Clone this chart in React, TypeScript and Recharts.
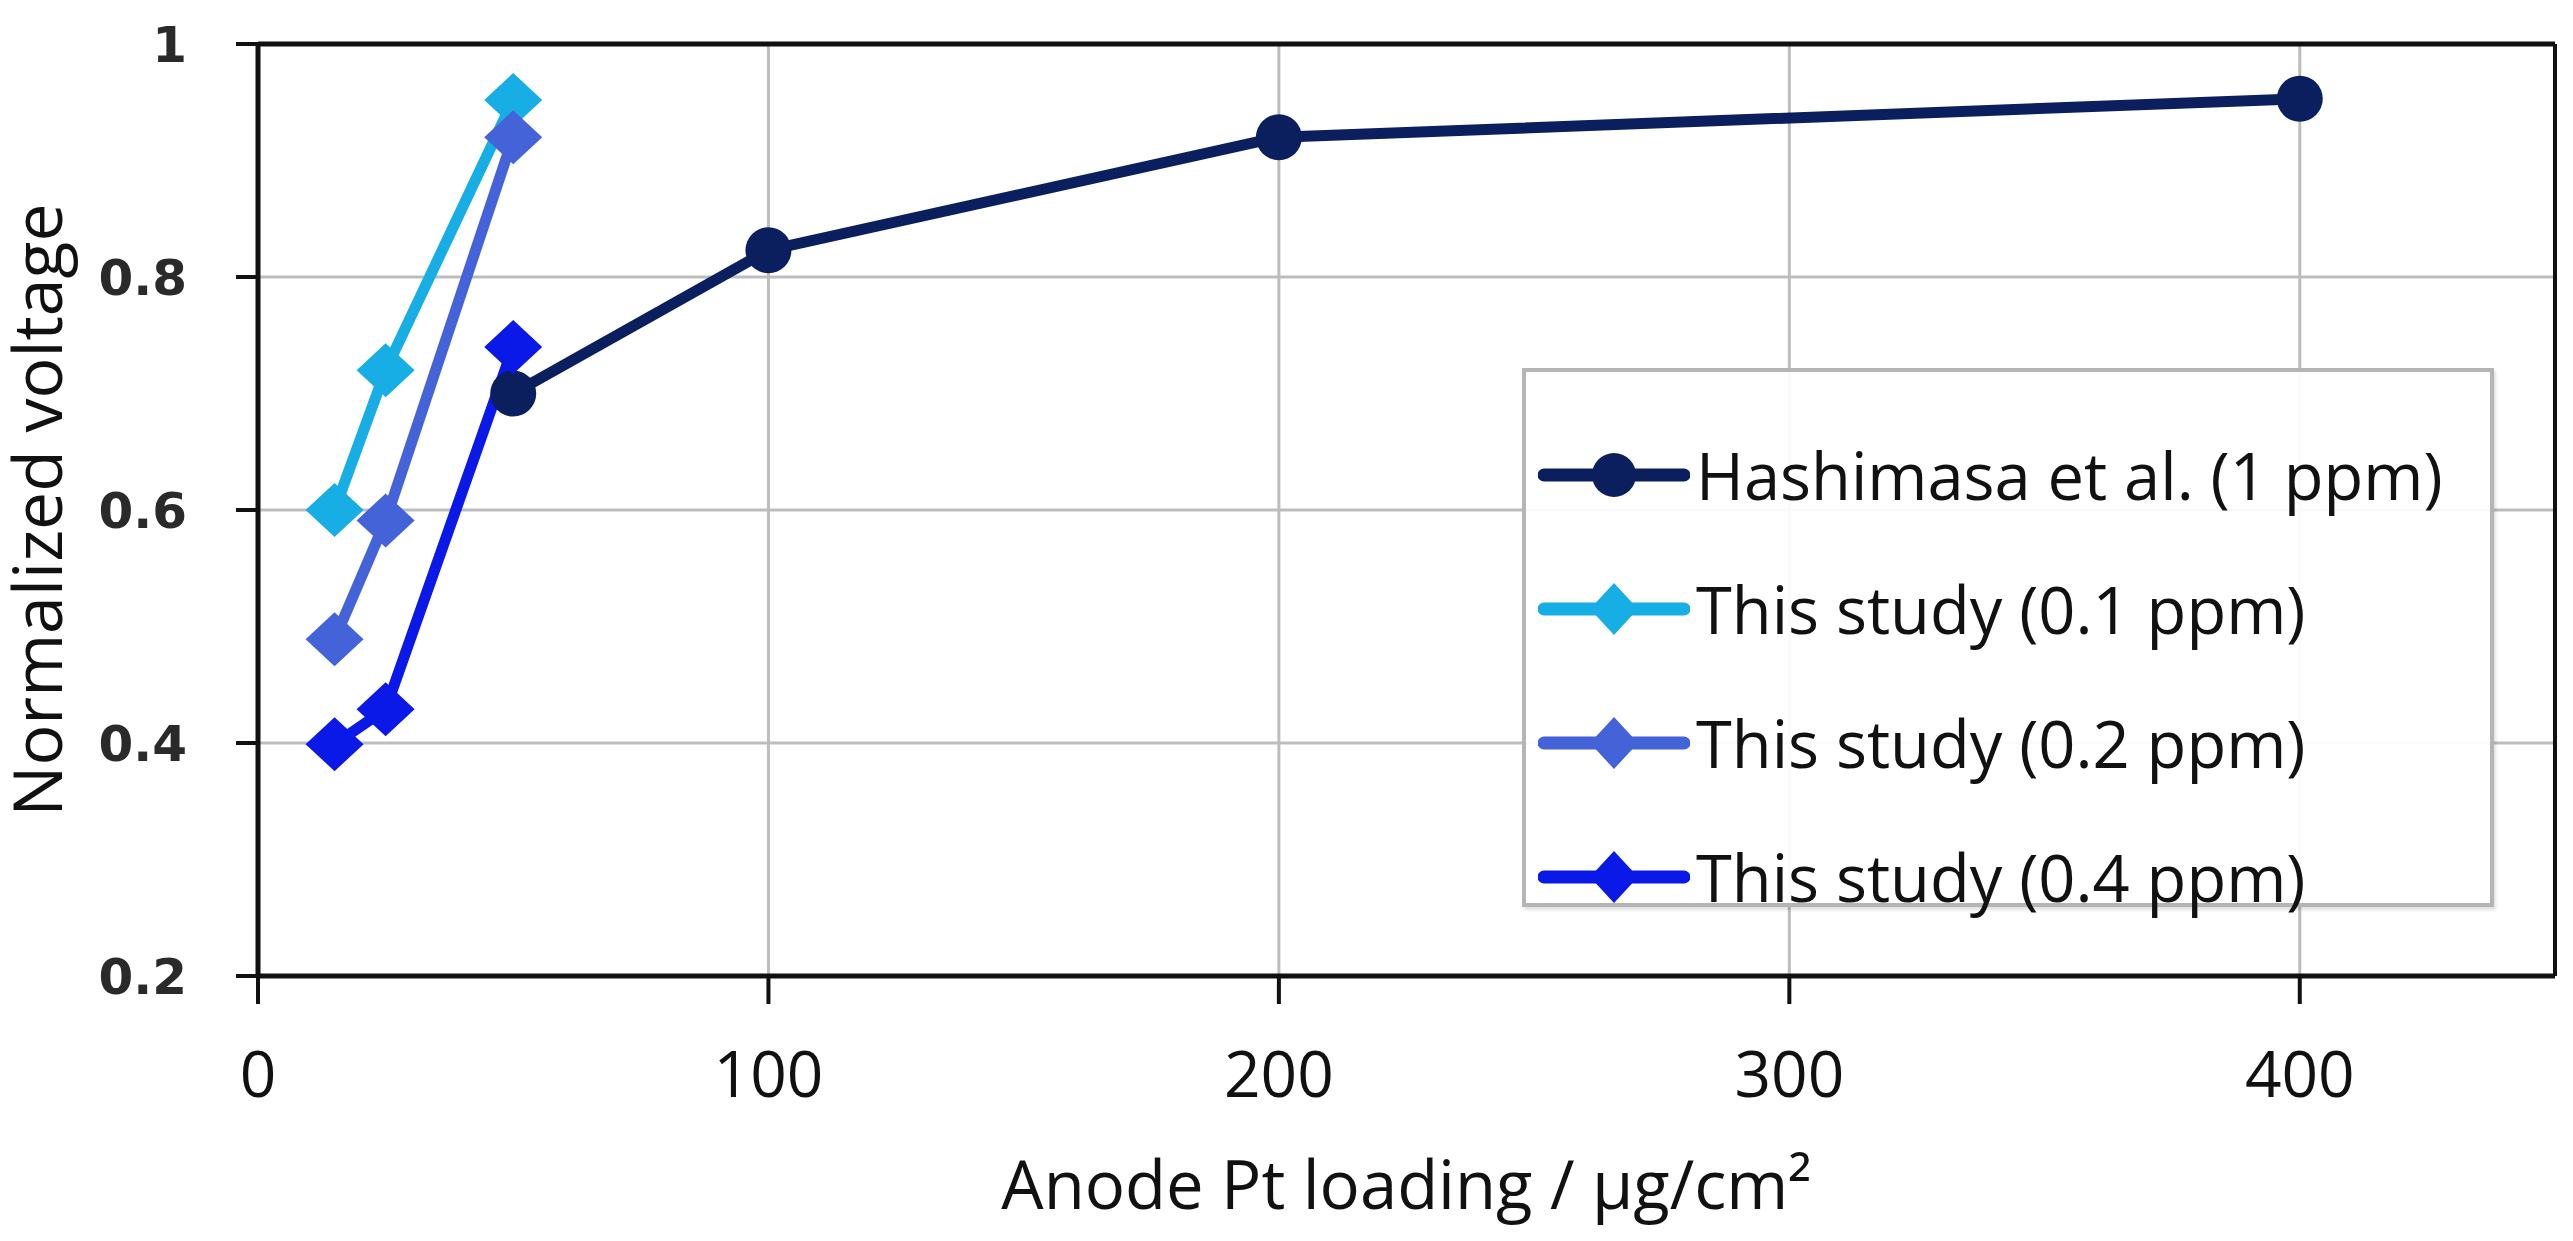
import React from "react";
import {
  LineChart,
  Line,
  XAxis,
  YAxis,
  CartesianGrid,
  Legend,
  Label,
  ReferenceLine,
} from "recharts";

// anode Pt loading (µg/cm²) and normalized voltage
const hashimasaLoading = [50, 100, 200, 400];
const hashimasaVoltage = [0.7, 0.823, 0.92, 0.953];
const studyLoading = [15, 25, 50];
const study01Voltage = [0.6, 0.72, 0.952];
const study02Voltage = [0.489, 0.591, 0.92];
const study04Voltage = [0.399, 0.429, 0.74];

const xTicks = [0, 100, 200, 300, 400];
const yTicks = [0.2, 0.4, 0.6, 0.8, 1];

const seriesNames = [
  "Hashimasa et al. (1 ppm)",
  "This study (0.1 ppm)",
  "This study (0.2 ppm)",
  "This study (0.4 ppm)",
];

const NAVY = "#0b1f5e";
const CYAN = "#17aee6";
const MID = "#4563d9";
const BLUE = "#0a18e8";

const toPoints = (xs: number[], ys: number[]) =>
  xs.map((x, i) => ({ x, y: ys[i] }));

const hashimasa = toPoints(hashimasaLoading, hashimasaVoltage);
const study01 = toPoints(studyLoading, study01Voltage);
const study02 = toPoints(studyLoading, study02Voltage);
const study04 = toPoints(studyLoading, study04Voltage);

const SANS = "'Open Sans', sans-serif";

function diamondDot(color: string) {
  return (props: any) => {
    const { cx, cy, index } = props;
    if (cx == null || cy == null) return <g key={index} />;
    return (
      <polygon
        key={index}
        points={`${cx},${cy - 27} ${cx + 29},${cy} ${cx},${cy + 27} ${cx - 29},${cy}`}
        fill={color}
      />
    );
  };
}

function circleDot(color: string) {
  return (props: any) => {
    const { cx, cy, index } = props;
    if (cx == null || cy == null) return <g key={index} />;
    return <circle key={index} cx={cx} cy={cy} r={23} fill={color} />;
  };
}

function LegendIcon({ color, circle }: { color: string; circle: boolean }) {
  return (
    <svg width={152} height={60} style={{ display: "block" }}>
      <line x1={6} y1={30} x2={146} y2={30} stroke={color} strokeWidth={13} strokeLinecap="round" />
      {circle ? (
        <circle cx={76} cy={30} r={22} fill={color} />
      ) : (
        <polygon points="76,4 100,30 76,56 52,30" fill={color} />
      )}
    </svg>
  );
}

function LegendBox({ payload }: { payload?: Array<{ value: string; color: string; dataKey?: any }> }) {
  if (!payload?.length) return null;
  return (
    <div
      style={{
        boxSizing: "border-box",
        width: 972,
        height: 539,
        border: "4px solid #b5b5b5",
        boxShadow: "2px 3px 3px rgba(0,0,0,0.12)",
        background: "rgba(255,255,255,0.92)",
        paddingTop: 36,
        paddingLeft: 12,
      }}
    >
      {payload.map((entry, i) => (
        <div
          key={entry.value}
          style={{ display: "flex", alignItems: "center", height: 134 }}
        >
          <LegendIcon color={entry.color} circle={i === 0} />
          <span
            style={{
              fontFamily: SANS,
              fontSize: 65,
              color: "#111",
              marginLeft: 6,
              whiteSpace: "nowrap",
            }}
          >
            {entry.value}
          </span>
        </div>
      ))}
    </div>
  );
}

export default function App() {
  return (
    <div style={{ width: 2557, height: 1225, background: "#fff" }}>
      <LineChart
        width={2557}
        height={1225}
        margin={{ top: 36, right: 10, bottom: 0, left: 0 }}
      >
        <CartesianGrid stroke="#bdbdbd" strokeWidth={3} />
        <XAxis
          type="number"
          dataKey="x"
          domain={[0, 450]}
          ticks={xTicks}
          allowDataOverflow
          height={257}
          axisLine={{ stroke: "#111", strokeWidth: 5 }}
          tickLine={{ stroke: "#111", strokeWidth: 4 }}
          tickSize={28}
          tickMargin={48}
          tick={{ fill: "#111", fontSize: 64, fontFamily: SANS }}
        >
          <Label
            value="Anode Pt loading / µg/cm²"
            position="insideBottom"
            offset={24}
            style={{ fontFamily: SANS, fontSize: 67, fill: "#111" }}
          />
        </XAxis>
        <YAxis
          type="number"
          domain={[0.2, 1]}
          ticks={yTicks}
          allowDataOverflow
          width={250}
          axisLine={{ stroke: "#111", strokeWidth: 5 }}
          tickLine={{ stroke: "#111", strokeWidth: 4 }}
          tickSize={22}
          tickMargin={49}
          tickFormatter={(v: number) => String(v)}
          tick={{
            fill: "#2a2a2a",
            fontSize: 50,
            fontWeight: "bold",
            fontFamily: "'DejaVu Sans', sans-serif",
          }}
        >
          <Label
            value="Normalized voltage"
            angle={-90}
            position="insideLeft"
            offset={30}
            style={{ textAnchor: "middle", fontFamily: SANS, fontSize: 68, fill: "#111" }}
          />
        </YAxis>
        <ReferenceLine y={1} stroke="#111" strokeWidth={5} />
        <ReferenceLine x={450} stroke="#111" strokeWidth={4} />
        <Legend
          layout="vertical"
          align="center"
          verticalAlign="middle"
          wrapperStyle={{ left: 1514, top: 360, width: 972, height: 539 }}
          content={<LegendBox />}
        />
        <Line
          data={hashimasa}
          dataKey="y"
          name={seriesNames[0]}
          stroke={NAVY}
          strokeWidth={11}
          dot={circleDot(NAVY)}
          activeDot={false}
          isAnimationActive={false}
        />
        <Line
          data={study01}
          dataKey="y"
          name={seriesNames[1]}
          stroke={CYAN}
          strokeWidth={11}
          dot={diamondDot(CYAN)}
          activeDot={false}
          isAnimationActive={false}
        />
        <Line
          data={study02}
          dataKey="y"
          name={seriesNames[2]}
          stroke={MID}
          strokeWidth={11}
          dot={diamondDot(MID)}
          activeDot={false}
          isAnimationActive={false}
        />
        <Line
          data={study04}
          dataKey="y"
          name={seriesNames[3]}
          stroke={BLUE}
          strokeWidth={11}
          dot={diamondDot(BLUE)}
          activeDot={false}
          isAnimationActive={false}
        />
      </LineChart>
    </div>
  );
}
